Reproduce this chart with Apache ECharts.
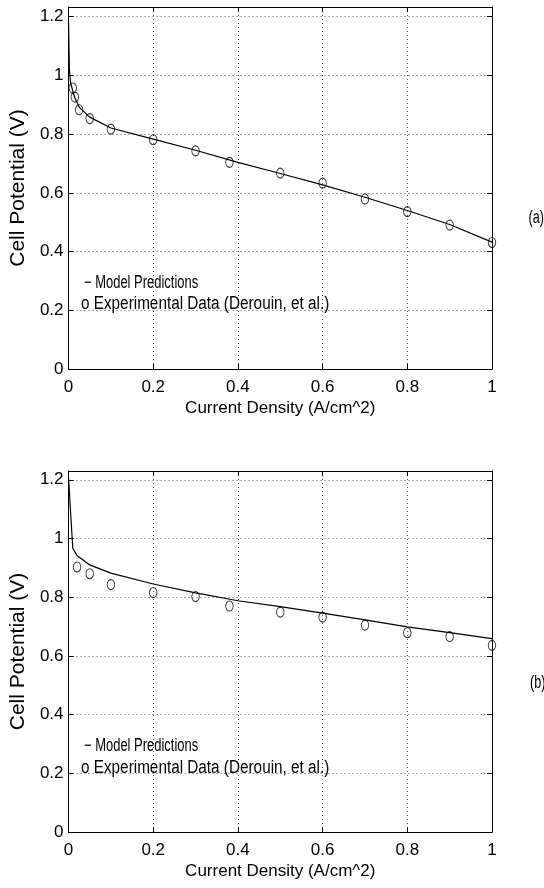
<!DOCTYPE html>
<html><head><meta charset="utf-8">
<script src="https://cdn.jsdelivr.net/npm/echarts@6/dist/echarts.min.js"></script>
<style>html,body{margin:0;padding:0;background:#fff}#c{width:544px;height:888px}</style>
</head><body><div id="c"></div>
<script>
// ---- data ----
const modelA = [[0,1.18],[0.002,1.02],[0.005,0.975],[0.01,0.947],[0.015,0.924],[0.025,0.892],[0.05,0.858],[0.1,0.821],[0.2,0.783],[0.3,0.745],[0.4,0.704],[0.5,0.666],[0.6,0.627],[0.7,0.585],[0.8,0.540],[0.9,0.492],[1.0,0.432]];
const expA = [[0.01,0.957],[0.015,0.926],[0.025,0.883],[0.05,0.853],[0.1,0.817],[0.2,0.781],[0.3,0.743],[0.38,0.704],[0.5,0.667],[0.6,0.633],[0.7,0.579],[0.8,0.536],[0.9,0.490],[1.0,0.431]];
const modelB = [[0,1.206],[0.01,0.967],[0.02,0.942],[0.05,0.910],[0.1,0.882],[0.2,0.845],[0.3,0.815],[0.4,0.788],[0.5,0.768],[0.6,0.746],[0.7,0.723],[0.8,0.699],[0.9,0.679],[1.0,0.659]];
const expB = [[0.02,0.903],[0.05,0.880],[0.1,0.843],[0.2,0.816],[0.3,0.802],[0.38,0.770],[0.5,0.749],[0.6,0.732],[0.7,0.705],[0.8,0.679],[0.9,0.666],[1.0,0.636]];
const xTitle = 'Current Density (A/cm^2)';
const yTitle = 'Cell Potential (V)';
const legendModel = '\u2212 Model Predictions';
const legendExp = 'o Experimental Data (Derouin, et al.)';
const panelLabels = ['(a)', '(b)'];
const yMax = [1.233, 1.23];

const REG = "'Liberation Sans', Arial, sans-serif";

function xAx(grid, top) {
  return {
    type: 'value', gridIndex: grid, position: top ? 'top' : 'bottom',
    min: 0, max: 1, interval: 0.2,
    name: top ? '' : xTitle, nameLocation: 'middle', nameGap: 31,
    nameTextStyle: { fontFamily: REG, fontSize: 17, color: '#000' },
    axisLine: { show: true, onZero: false, lineStyle: { color: '#000', width: 1 } },
    axisTick: { show: true, inside: true, length: 5, lineStyle: { color: '#000' } },
    axisLabel: { show: !top, margin: 10, fontFamily: REG, fontSize: 17, color: '#000' },
    splitLine: { show: !top, lineStyle: { color: '#555', type: [1, 3], width: 1 } }
  };
}
function yAx(grid, right) {
  return {
    type: 'value', gridIndex: grid, position: right ? 'right' : 'left',
    min: 0, max: yMax[grid], interval: 0.2,
    name: right ? '' : yTitle, nameLocation: 'middle', nameGap: 28,
    nameTextStyle: { fontFamily: REG, fontSize: 21, color: '#000' },
    axisLine: { show: true, onZero: false, lineStyle: { color: '#000', width: 1 } },
    axisTick: { show: true, inside: true, length: 5, lineStyle: { color: '#000' } },
    axisLabel: { show: !right, margin: 5, showMaxLabel: false, fontFamily: REG, fontSize: 17, color: '#000' },
    splitLine: { show: !right, showMaxLine: false, lineStyle: { color: '#555', type: [1, 3], width: 1 } }
  };
}
const lineStyle = { color: '#000', width: 1.2 };
const circle = { symbol: 'circle', symbolSize: [7.5, 10],
  itemStyle: { color: 'rgba(0,0,0,0)', borderColor: '#000', borderWidth: 1 } };

const chart = echarts.init(document.getElementById('c'), null, { renderer: 'canvas' });
const txt = (x, y, s, size, sx) => ({ type: 'text', x: x, y: y, scaleX: sx,
  style: { text: s, fontFamily: REG, fontSize: size, fill: '#000', align: 'left', verticalAlign: 'middle' }, z: 10 });

chart.setOption({
  animation: false,
  backgroundColor: '#fff',
  grid: [
    { left: 57, top: 7, width: 435, height: 362 },
    { left: 57, top: 471, width: 435, height: 361 }
  ],
  xAxis: [xAx(0, false), xAx(0, true), xAx(1, false), xAx(1, true)],
  yAxis: [yAx(0, false), yAx(0, true), yAx(1, false), yAx(1, true)],
  series: [
    { type: 'line', xAxisIndex: 0, yAxisIndex: 0, data: modelA, showSymbol: false, lineStyle, z: 3 },
    Object.assign({ type: 'scatter', xAxisIndex: 0, yAxisIndex: 0, data: expA, z: 4 }, circle),
    { type: 'line', xAxisIndex: 2, yAxisIndex: 2, data: modelB, showSymbol: false, lineStyle, z: 3 },
    Object.assign({ type: 'scatter', xAxisIndex: 2, yAxisIndex: 2, data: expB, z: 4 }, circle)
  ],
  graphic: [
    txt(84, 283, legendModel, 18, 0.72),
    txt(81, 304, legendExp, 18, 0.85),
    txt(84, 746, legendModel, 18, 0.72),
    txt(81, 768, legendExp, 18, 0.85),
    txt(528.5, 218, panelLabels[0], 18, 0.7),
    txt(530, 683, panelLabels[1], 18, 0.7)
  ]
});
</script></body></html>
